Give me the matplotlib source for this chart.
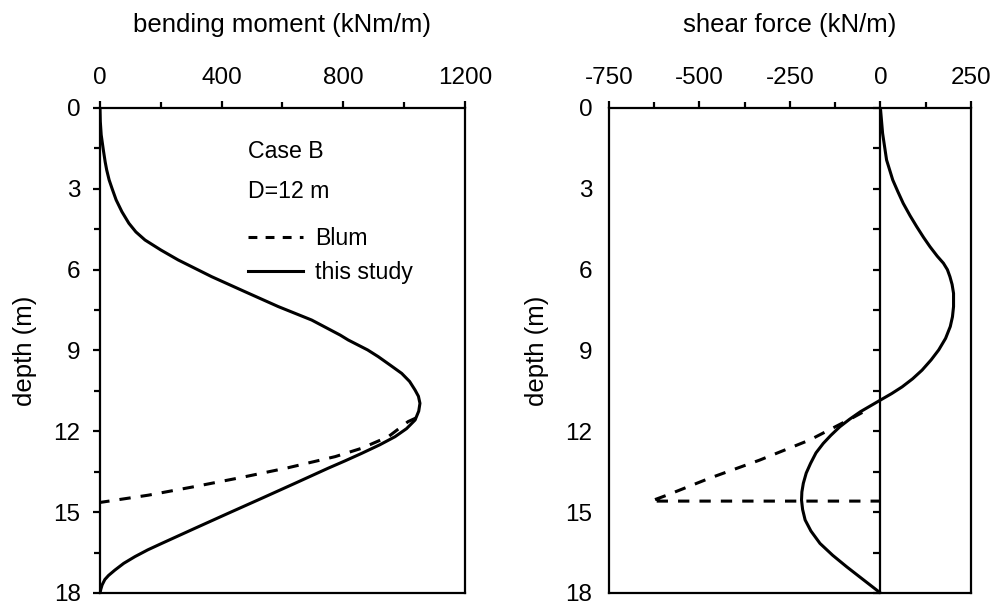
import matplotlib.pyplot as plt
from matplotlib.ticker import MultipleLocator
from matplotlib.lines import Line2D

plt.rcParams['font.family'] = ['Liberation Sans', 'DejaVu Sans']
plt.rcParams['axes.unicode_minus'] = False

# bending moment, this study
depth_m = [0, 0.5, 1.0, 1.56, 2.0, 2.3, 2.67, 3.0, 3.41, 3.85, 4.28, 4.6, 4.9,
           5.27, 5.64, 5.95, 6.26, 6.82, 7.37, 7.87, 8.43, 8.61, 8.98, 9.23,
           9.55, 9.85, 10.15, 10.47, 10.7, 10.96, 11.25, 11.58, 11.9, 12.2, 12.5,
           12.82, 13.1, 13.37, 13.93, 14.49, 15.04, 15.6, 16.16, 16.4, 16.65,
           16.9, 17.15, 17.35, 17.5, 17.7, 17.85, 18]
moment = [0, 1, 4, 11, 17, 22, 30, 40, 53, 72, 95, 118, 148,
          200, 257, 312, 367, 477, 586, 696, 790, 816, 880, 915,
          955, 992, 1018, 1036, 1047, 1052, 1048, 1036, 1008, 970, 920,
          860, 805, 750, 641, 531, 422, 312, 203, 157, 115,
          78, 49, 28, 16, 7, 3, 0]

# bending moment, Blum
depth_m_blum = [11.5, 11.64, 12.2, 12.63, 12.94, 13.35, 13.71, 14.05, 14.37, 14.64]
moment_blum = [1040, 1013, 948, 860, 773, 619, 466, 312, 159, 0]

# shear force, this study
depth_v = [0, 0.94, 1.93, 2.67, 3.1, 3.54, 4.0, 4.4, 4.8, 5.15, 5.5, 5.76, 6.0,
           6.26, 6.55, 6.88, 7.37, 7.75, 8.11, 8.55, 8.98, 9.35, 9.73, 10.05,
           10.35, 10.6, 10.84, 11.27, 11.55, 11.83, 12.15, 12.45, 12.8, 13.19,
           13.55, 13.93, 14.25, 14.55, 14.9, 15.29, 15.7, 16.16, 16.6, 17.03,
           17.5, 18]
shear = [0, 6, 17, 34, 48, 63, 82, 100, 119, 137, 157, 174, 185,
         192, 198, 202, 202, 199, 193, 180, 161, 140, 115, 89,
         60, 31, 0, -55, -85, -112, -137, -158, -178, -193,
         -205, -213, -217, -218, -215, -208, -192, -167, -132, -93,
         -48, 0]

# shear force, Blum
depth_v_blum = [11.3, 11.52, 12.32, 13.07, 13.74, 14.36, 14.59, 14.59]
shear_blum = [-50, -80, -195, -334, -472, -588, -634, 0]

dash = (0, (3.7, 3.3))
lw = 2.2
fs_tick = 17.5
fs_lab = 18.5
fs_leg = 16.7


def style_axis(ax):
    for sp in ax.spines.values():
        sp.set_linewidth(1.6)
    ax.xaxis.tick_top()
    ax.xaxis.set_label_position('top')
    ax.set_ylim(18, 0)
    ax.yaxis.set_major_locator(MultipleLocator(3))
    ax.yaxis.set_minor_locator(MultipleLocator(1.5))
    ax.tick_params(axis='x', which='major', direction='out', length=5, width=1.6,
                   labelsize=fs_tick, pad=9)
    ax.tick_params(axis='x', which='minor', direction='out', length=4, width=1.6)
    ax.set_ylabel('depth (m)', fontsize=fs_lab, labelpad=12)


fig = plt.figure(figsize=(9.95, 6.08), dpi=100)

# left: bending moment
ax = fig.add_axes([0.1005, 0.0247, 0.3668, 0.7977])
ax.plot(moment_blum, depth_m_blum, color='black', lw=lw, ls=dash)
ax.plot(moment, depth_m, color='black', lw=lw)
style_axis(ax)
ax.set_xlim(0, 1200)
ax.xaxis.set_major_locator(MultipleLocator(400))
ax.xaxis.set_minor_locator(MultipleLocator(200))
ax.tick_params(axis='y', which='major', direction='out', length=5, width=1.6,
               labelsize=fs_tick, pad=9)
ax.tick_params(axis='y', which='minor', direction='out', length=4, width=1.6)
ax.set_xlabel('bending moment (kNm/m)', fontsize=fs_lab, labelpad=25)

ax.text(0.405, 0.911, 'Case B', transform=ax.transAxes, fontsize=fs_leg, va='center')
ax.text(0.405, 0.828, 'D=12 m', transform=ax.transAxes, fontsize=fs_leg, va='center')
handles = [Line2D([], [], color='black', lw=lw, ls=(0, (2.9, 2.7))),
           Line2D([], [], color='black', lw=lw)]
ax.legend(handles, ['Blum', 'this study'], loc='upper left',
          bbox_to_anchor=(0.405, 0.754), frameon=False, fontsize=fs_leg,
          borderaxespad=0, borderpad=0, handlelength=2.4, handletextpad=0.5,
          labelspacing=0.45)

# right: shear force
ax2 = fig.add_axes([0.612, 0.0247, 0.3638, 0.7977])
ax2.plot(shear_blum, depth_v_blum, color='black', lw=lw, ls=dash)
ax2.plot(shear, depth_v, color='black', lw=lw)
style_axis(ax2)
ax2.set_xlim(-750, 250)
ax2.xaxis.set_major_locator(MultipleLocator(250))
ax2.xaxis.set_minor_locator(MultipleLocator(125))
ax2.tick_params(axis='y', which='both', length=0, labelsize=fs_tick, pad=12)
ax2.set_xlabel('shear force (kN/m)', fontsize=fs_lab, labelpad=25)

# depth axis drawn through zero shear
zax = ax2.secondary_yaxis(0, transform=ax2.transData)
zax.set_alignment('left')
zax.spines['left'].set_linewidth(1.6)
zax.yaxis.set_major_locator(MultipleLocator(3))
zax.yaxis.set_minor_locator(MultipleLocator(1.5))
zax.tick_params(axis='y', which='both', direction='out', length=5, width=1.6,
                labelleft=False, labelright=False)

fig.savefig('out.png', dpi=100)
